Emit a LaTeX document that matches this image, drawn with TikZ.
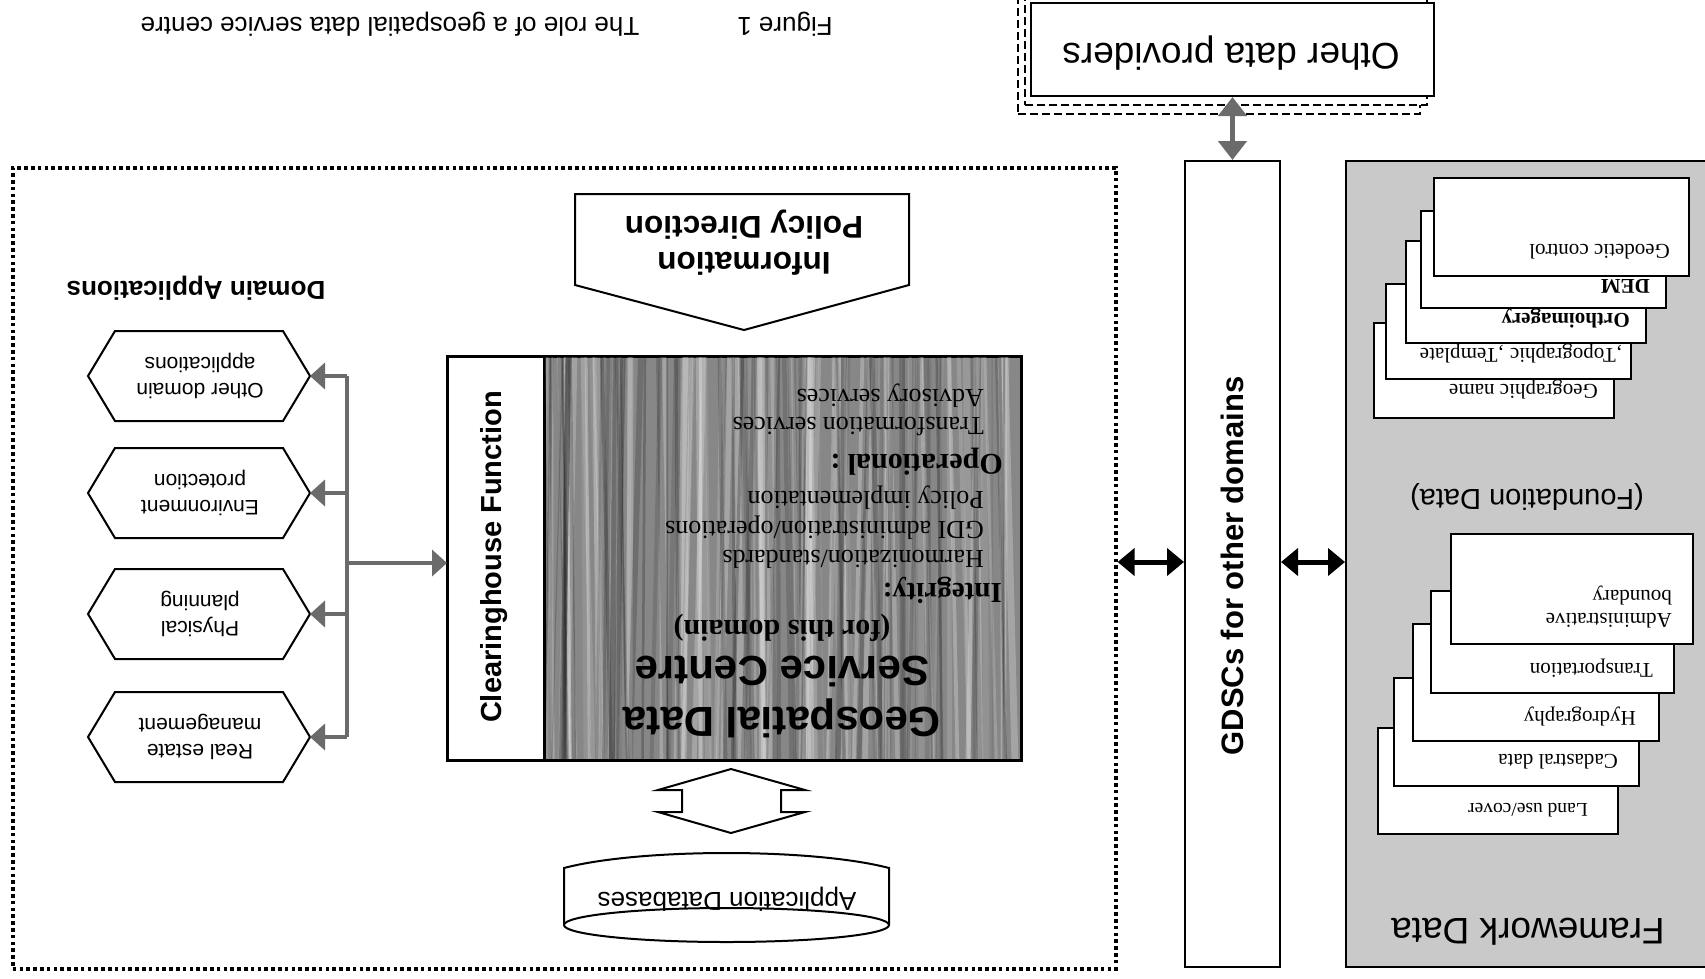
\documentclass[tikz,border=0pt]{standalone}
\usepackage{fontspec}
\setmainfont{Liberation Serif}
\setsansfont{Liberation Sans}
\usetikzlibrary{arrows.meta}
\newcommand\fsz[2]{\fontsize{#1}{#2}\selectfont}
\newcommand\hexapp[3]{%
  \draw[box] (88,#2) -- (115,{#2-45}) -- (283,{#2-45}) -- (310,#2) -- (283,{#2+45}) -- (115,{#2+45}) -- cycle;
  \node[ud, align=center, font=\sffamily\fsz{21}{26}] (#1) at (200,#2) {#3};
  \coordinate (#1-tip) at (310,#2);
}
\begin{document}
\begin{tikzpicture}[x=1pt,y=-1pt,
  ud/.style={rotate=180, inner sep=0pt},
  box/.style={draw, line width=2pt, fill=white},
  card/.style={draw, line width=1.8pt, fill=white, anchor=north west, inner sep=0pt},
  cardtxt/.style={ud, anchor=west, align=left, font=\fsz{21}{23}},
  panel/.style={draw, line width=2pt, anchor=north west, inner sep=0pt},
  blk/.style={line width=5pt, {Triangle[length=17pt,width=27pt]}-{Triangle[length=17pt,width=27pt]}},
  gry/.style={draw=black!58, line width=4.5pt},
  ghead/.style={-{Triangle[length=15pt,width=26pt]}},
  gdbl/.style={draw=black!58, line width=5pt, {Triangle[length=19pt,width=28pt]}-{Triangle[length=19pt,width=28pt]}},
  dotbox/.style={draw, line width=3.6pt, dash pattern=on 3.6pt off 3.2pt},
  shadowbox/.style={draw, line width=2.2pt, dash pattern=on 8pt off 4pt, fill=white, anchor=north west, inner sep=0pt},
]
\useasboundingbox (0,0) rectangle (1705,978);
\fill[white] (0,0) rectangle (1705,978);

% caption
\node[ud, font=\sffamily\fsz{26}{30}] (fig) at (785,24) {Figure 1};
\node[ud, font=\sffamily\fsz{26}{30}] (cap) at (390,24) {The role of a geospatial data service centre};

% other data providers
\node[shadowbox, minimum width=402pt, minimum height=125pt] (odp2) at (1017,-12) {};
\node[shadowbox, minimum width=402pt, minimum height=116pt] (odp1) at (1024,-12) {};
\node[panel, fill=white, minimum width=403pt, minimum height=93pt] (odp) at (1030,2) {};
\node[ud, font=\sffamily\fsz{37}{40}] (odptxt) at (1231,53) {Other data providers};

% outer dotted domain box
\node[dotbox, anchor=north west, minimum width=1103pt, minimum height=801pt, inner sep=0pt] (dom) at (11,166) {};

% GDSCs
\node[panel, fill=white, minimum width=95pt, minimum height=806pt] (gdsc) at (1184,160) {};
\node[rotate=90, font=\sffamily\bfseries\fsz{31}{34}] (gdsctxt) at (1232,566) {GDSCs for other domains};

% Framework panel
\node[panel, fill=black!21, minimum width=370pt, minimum height=806pt] (fw) at (1345,160) {};
\node[ud, font=\sffamily\fsz{37}{40}] (fwtxt) at (1528,932) {Framework Data};
\node[ud, font=\sffamily\fsz{29}{32}] (fdtxt) at (1527,497) {(Foundation Data)};

% bottom stack of cards
\node[card, minimum width=240pt, minimum height=106pt] (land) at (1377,727) {};
\node[cardtxt, font=\fsz{19.5}{23}] (landt) at (1588,810) {Land use/cover};
\node[card, minimum width=245pt, minimum height=108pt] (cad) at (1393,677) {};
\node[cardtxt] (cadt) at (1618,762) {Cadastral data};
\node[card, minimum width=246pt, minimum height=117pt] (hyd) at (1412,623) {};
\node[cardtxt] (hydt) at (1636,717) {Hydrography};
\node[card, minimum width=243pt, minimum height=102pt] (trn) at (1430,590) {};
\node[cardtxt] (trnt) at (1653,668) {Transportation};
\node[card, minimum width=242pt, minimum height=110pt] (adm) at (1450,533) {};
\node[cardtxt] (admt) at (1672,607) {Administrative\\boundary};

% top stack of cards
\node[card, minimum width=240pt, minimum height=95pt] (gnm) at (1373,322) {};
\node[cardtxt] (gnmt) at (1598,390) {Geographic name};
\node[card, minimum width=245pt, minimum height=95pt] (topo) at (1385,283) {};
\node[cardtxt] (topot) at (1623,354) {‚Topographic ‚Template};
\node[card, minimum width=240pt, minimum height=102pt] (orth) at (1405,240) {};
\node[cardtxt, font=\bfseries\fsz{21}{23}] (ortht) at (1630,318) {Orthoimagery};
\node[card, minimum width=245pt, minimum height=97pt] (dem) at (1420,210) {};
\node[cardtxt, font=\bfseries\fsz{21}{23}] (demt) at (1650,286) {DEM};
\node[card, minimum width=255pt, minimum height=98pt] (geod) at (1433,177) {};
\node[cardtxt] (geodt) at (1670,252) {Geodetic control};

% central box
\node[panel, fill=white, minimum width=573pt, minimum height=403pt] (central) at (447,356) {};
\node[panel, fill=black!47, minimum width=476pt, minimum height=403pt] (dark) at (544,356) {};
\begin{scope}
  \clip (545,357) rectangle (1019,758);
  \pgfmathsetseed{3}
  \foreach \i in {1,...,90}{
    \pgfmathsetmacro\xx{544+476*rnd}
    \pgfmathsetmacro\ww{1+6*rnd}
    \pgfmathsetmacro\op{0.08+0.18*rnd}
    \pgfmathsetmacro\dx{24*rnd-12}
    \draw[white, line width=\ww pt, opacity=\op] (\xx,356) -- ({\xx+\dx},759);
  }
  \foreach \i in {1,...,70}{
    \pgfmathsetmacro\xx{544+476*rnd}
    \pgfmathsetmacro\ww{1+5*rnd}
    \pgfmathsetmacro\op{0.08+0.15*rnd}
    \pgfmathsetmacro\dx{24*rnd-12}
    \draw[black, line width=\ww pt, opacity=\op] (\xx,356) -- ({\xx+\dx},759);
  }
\end{scope}
\draw[line width=2pt] (central.north west) rectangle (central.south east);
\draw[line width=2pt] (dark.north west) -- (dark.south west);
\node[rotate=90, font=\sffamily\bfseries\fsz{29}{32}] (clh) at (494,557) {Clearinghouse Function};

\node[ud, font=\sffamily\bfseries\fsz{42}{46}] (t1) at (782,718) {Geospatial Data};
\node[ud, font=\sffamily\bfseries\fsz{42}{46}] (t2) at (782,671) {Service Centre};
\node[ud, font=\bfseries\fsz{30}{32}] (t3) at (782,628) {(for this domain)};
\node[ud, anchor=west, font=\bfseries\fsz{29}{30}] (i0) at (1002,590) {Integrity:};
\node[ud, anchor=west, font=\fsz{26}{30}] (i1) at (984,559) {Harmonization/standards};
\node[ud, anchor=west, font=\fsz{26}{30}] (i2) at (984,528) {GDI administration/operations};
\node[ud, anchor=west, font=\fsz{26}{30}] (i3) at (984,498) {Policy implementation};
\node[ud, anchor=west, font=\bfseries\fsz{30}{30}] (o0) at (1003,462) {Operational :};
\node[ud, anchor=west, font=\fsz{26}{30}] (o1) at (984,427) {Transformation services};
\node[ud, anchor=west, font=\fsz{26}{30}] (o2) at (984,396) {Advisory services};

% policy direction arrow
\draw[box] (575,194) -- (909,194) -- (909,285) -- (744,330) -- (575,285) -- cycle;
\node[ud, align=center, font=\sffamily\bfseries\fsz{31.5}{36}] (pol) at (744,243) {Information\\Policy Direction};

% double block arrow
\draw[box] (731,769) -- (805,790) -- (781,790) -- (781,812) -- (805,812) -- (731,833) -- (658,812) -- (682,812) -- (682,790) -- (658,790) -- cycle;

% application databases cylinder
\draw[box] (564,925) -- (564,868) .. controls (640,848) and (813,848) .. (889,868) -- (889,925);
\draw[line width=2pt, fill=white] (726.5,925) ellipse [x radius=162.5, y radius=17];
\node[ud, font=\sffamily\fsz{26}{30}] (appdb) at (727,899) {Application Databases};

% domain applications
\node[ud, font=\sffamily\bfseries\fsz{26}{30}] (dapp) at (196,288) {Domain Applications};
\hexapp{hOther}{376}{Other domain\\applications}
\hexapp{hEnv}{493}{Environment\\protection}
\hexapp{hPhys}{614}{Physical\\planning}
\hexapp{hReal}{737}{Real estate\\management}

\coordinate (tr1) at (347,376);
\coordinate (tr2) at (347,493);
\coordinate (tr3) at (347,614);
\coordinate (tr4) at (347,737);
\coordinate (trm) at (347,563);
\draw[gry] (tr1) -- (tr4);
\draw[gry, ghead] (tr1) -- (hOther-tip);
\draw[gry, ghead] (tr2) -- (hEnv-tip);
\draw[gry, ghead] (tr3) -- (hPhys-tip);
\draw[gry, ghead] (tr4) -- (hReal-tip);
\draw[gry, ghead] (trm) -- (central.west |- trm);

% inter-box arrows
\coordinate (ya) at (0,562);
\draw[blk] (dom.east |- ya) -- (gdsc.west |- ya);
\draw[blk] (gdsc.east |- ya) -- (fw.west |- ya);
\draw[gdbl] (odp.south) -- (gdsc.north);
\end{tikzpicture}
\end{document}
